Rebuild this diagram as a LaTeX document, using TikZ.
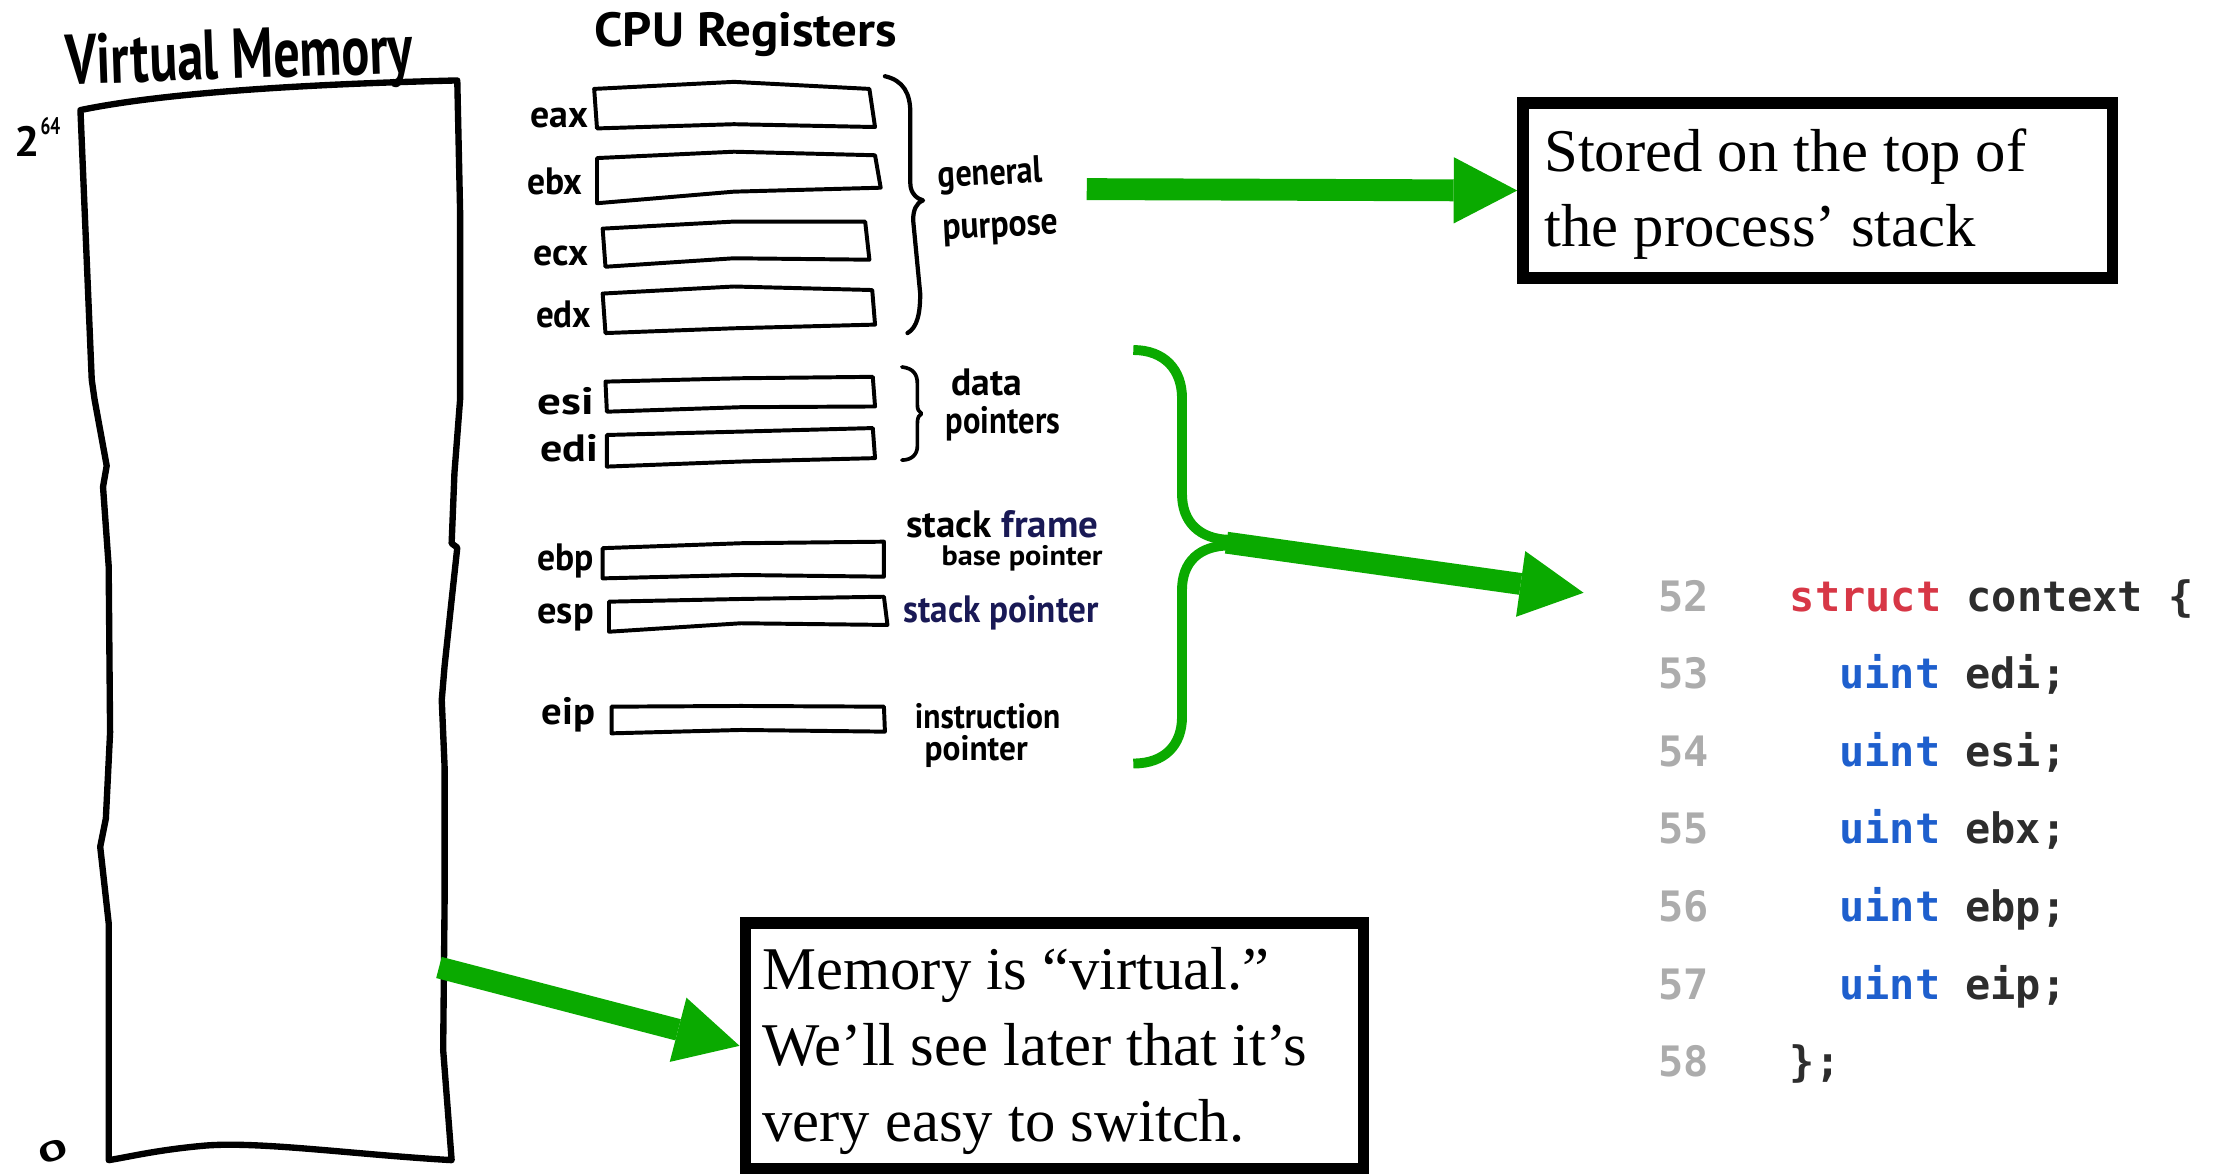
\documentclass[tikz,border=0pt]{standalone}
\usepackage{fontspec}
\usepackage{graphicx}
\setmainfont{Liberation Serif}
\newfontfamily\handfont{PT Sans}
\newfontfamily\codefont{DejaVu Sans Mono}
\usetikzlibrary{arrows.meta}

\definecolor{marker}{RGB}{10,170,0}
\definecolor{inkblue}{RGB}{25,25,85}
\definecolor{kwred}{RGB}{215,55,70}
\definecolor{kwblue}{RGB}{30,95,205}
\definecolor{codeink}{RGB}{45,45,45}
\definecolor{lineno}{RGB}{172,172,172}

% stretch a handwritten label to a given width, keeping its height
\newcommand\hw[2]{\resizebox{#1}{\height}{#2}}

\begin{document}
\begin{tikzpicture}[x=1pt,y=-1pt,
  hand/.style={font={\handfont\bfseries\fontsize{#1}{#1}\selectfont}, inner sep=0pt},
  ink/.style={line width=#1, line join=round, line cap=round},
  reg/.style={ink=2.8pt},
  greenarrow/.style={draw=marker, line width=15.5pt,
    -{Triangle[length=45pt,width=47pt,line width=0pt]}},
  msgbox/.style={draw, line width=8pt, inner sep=0pt},
  msgtext/.style={font=\fontsize{43}{43}\selectfont, inner sep=0pt, anchor=base west},
  lno/.style={font={\codefont\bfseries\fontsize{29.7}{29.7}\selectfont}, text=lineno,
    inner sep=0pt, anchor=base west},
  code/.style={font={\codefont\bfseries\fontsize{29.7}{29.7}\selectfont}, text=codeink,
    inner sep=0pt, anchor=base west},
]
\useasboundingbox (0,0) rectangle (1568,832);

% ---------------- virtual memory ----------------
\node[hand=50, anchor=base west, rotate=2] (vmtitle) at (47,60) {\hw{246pt}{Virtual Memory}};
\draw[ink=4.5pt] (57,78) .. controls (110,67) and (200,60) .. (324,57)
  -- (326,150) -- (326,283) -- (322,335) -- (320,385) -- (324,388)
  -- (320,425) -- (315,472) -- (313,496) -- (315,543) -- (315,640)
  -- (314,744) -- (320,822)
  .. controls (250,818) and (180,808) .. (142,812)
  .. controls (110,815) and (90,820) .. (77,822)
  -- (77,654) -- (71,600) -- (75,580) -- (78,519) -- (77,401)
  -- (73,345) -- (75.6,330) -- (67,283) -- (65,269) -- cycle;
\node[hand=30, anchor=base west] (top) at (10,111) {\hw{18pt}{2}};
\node[hand=17, anchor=base west] (topexp) at (28.5,95) {\hw{14pt}{64}};
\node[hand=24, rotate=20] (bottom) at (37.5,816) {\resizebox{21pt}{14pt}{0}};
\coordinate (memout) at (311,685.5);

% ---------------- CPU registers ----------------
\node[hand=34, anchor=base west] (cputitle) at (421,33) {\hw{214pt}{CPU Registers}};

\draw[reg] (421,63) -- (520,58) -- (616,63) -- (620,90) -- (520,88) -- (423,91) -- cycle;
\draw[reg] (423,112) -- (520,107.5) -- (620,110) -- (624,133) -- (520,135.8) -- (423,144) -- cycle;
\draw[reg] (427,162) -- (520,157) -- (613,157) -- (616,184) -- (520,183) -- (429,189) -- cycle;
\draw[reg] (427,208) -- (520,203) -- (618,205.5) -- (620,230) -- (520,232.6) -- (429,236) -- cycle;
\draw[reg] (429,270.4) -- (525,268) -- (618.4,267) -- (620,288) -- (525,288.5) -- (430,291.7) -- cycle;
\draw[reg] (430,308.2) -- (525,305.8) -- (618.4,303.3) -- (620,324.6) -- (525,327) -- (430,330.6) -- cycle;
\draw[reg] (427,388.4) -- (525,384.9) -- (626.3,383.8) -- (626.3,408.6) -- (525,407.4) -- (427,409.8) -- cycle;
\draw[reg] (431.5,426.3) -- (525,424.4) -- (626.3,422.8) -- (628.8,442.8) -- (525,441.6) -- (431.5,447.6) -- cycle;
\draw[reg] (433.3,500.7) -- (525,500.2) -- (626.3,500.7) -- (627,518.4) -- (525,517.2) -- (433.3,519.6) -- cycle;

\node[hand=27, anchor=base east] (leax) at (417,90)  {\hw{41pt}{eax}};
\node[hand=27, anchor=base east] (lebx) at (413,138) {\hw{39pt}{ebx}};
\node[hand=27, anchor=base east] (lecx) at (417,188) {\hw{39pt}{ecx}};
\node[hand=27, anchor=base east] (ledx) at (419,232) {\hw{39pt}{edx}};
\node[hand=27, anchor=base east] (lesi) at (421,294) {\hw{40pt}{esi}};
\node[hand=27, anchor=base east] (ledi) at (424,327) {\hw{41pt}{edi}};
\node[hand=27, anchor=base east] (lebp) at (421,404) {\hw{40pt}{ebp}};
\node[hand=27, anchor=base east] (lesp) at (421,442) {\hw{40pt}{esp}};
\node[hand=27, anchor=base east] (leip) at (422,513) {\hw{38pt}{eip}};

% braces drawn with the marker
\draw[ink=3pt] (627,54) .. controls (640,57) and (645,66) .. (645,80) -- (645,130)
  .. controls (645,137) and (650,141) .. (654,142)
  .. controls (649,144) and (647,149) .. (647,156) -- (652,208)
  .. controls (652,222) and (650,232) .. (643,236);
\draw[ink=2.6pt] (639,260) .. controls (647,261) and (650,265) .. (650,272) -- (650,287)
  .. controls (650,290) and (651,292) .. (653,293)
  .. controls (651,294) and (650,296) .. (650,300) -- (650,316)
  .. controls (650,322) and (646,326) .. (639,326);

\node[hand=27, anchor=base west, rotate=3] (lgen) at (665,133) {\hw{74pt}{general}};
\node[hand=27, anchor=base west, rotate=3] (lpur) at (668,170) {\hw{82pt}{purpose}};
\node[hand=27, anchor=base west] (ldata) at (674,280) {\hw{50pt}{data}};
\node[hand=27, anchor=base west] (lptrs) at (670,307) {\hw{81pt}{pointers}};
\node[hand=27, anchor=base west] (lframe) at (642,381) {\hw{136pt}{stack \textcolor{inkblue}{frame}}};
\node[hand=20, anchor=base west] (lbase) at (667,401) {\hw{114pt}{base pointer}};
\node[hand=27, anchor=base west, text=inkblue] (lsp) at (640,441) {\hw{138pt}{stack pointer}};
\node[hand=25, anchor=base west] (linstr) at (648,516) {\hw{103pt}{instruction}};
\node[hand=25, anchor=base west] (lip) at (655,539) {\hw{73pt}{pointer}};

\coordinate (regsout) at (770,134);

% ---------------- green marker strokes ----------------
\draw[ink=7pt, draw=marker, line cap=butt]
  (803,248) .. controls (825,248) and (837.5,262) .. (837.5,282) -- (837.5,350)
  .. controls (837.5,370) and (850,382) .. (871,382.5);
\draw[ink=7pt, draw=marker, line cap=butt]
  (871,386.5) .. controls (850,386.5) and (837.5,398) .. (837.5,418) -- (837.5,508)
  .. controls (837.5,528) and (825,541) .. (803,541);
\coordinate (bracetip) at (869,384.5);

% ---------------- notes ----------------
\node[msgbox, minimum width=418pt, minimum height=124pt] (stored) at (1288,135) {};
\node[msgtext] (stored1) at (1094,121.6) {Stored on the top of};
\node[msgtext] (stored2) at (1094,174.8) {the process’ stack};

\node[msgbox, minimum width=438pt, minimum height=174pt] (memnote) at (747,741) {};
\node[msgtext] (mem1) at (540,701) {Memory is “virtual.”};
\node[msgtext] (mem2) at (540,755) {We’ll see later that it’s};
\node[msgtext] (mem3) at (540,809) {very easy to switch.};

% ---------------- saved context ----------------
\node[lno] (n52) at (1175,433) {52};
\node[lno] (n53) at (1175,488) {53};
\node[lno] (n54) at (1175,543) {54};
\node[lno] (n55) at (1175,598) {55};
\node[lno] (n56) at (1175,653) {56};
\node[lno] (n57) at (1175,708) {57};
\node[lno] (n58) at (1175,763) {58};
\node[code] (c52) at (1268,433) {\textcolor{kwred}{struct} context \{};
\node[code] (c53) at (1303,488) {\textcolor{kwblue}{uint} edi;};
\node[code] (c54) at (1303,543) {\textcolor{kwblue}{uint} esi;};
\node[code] (c55) at (1303,598) {\textcolor{kwblue}{uint} ebx;};
\node[code] (c56) at (1303,653) {\textcolor{kwblue}{uint} ebp;};
\node[code] (c57) at (1303,708) {\textcolor{kwblue}{uint} eip;};
\node[code] (c58) at (1268,763) {\};};
\coordinate (codein) at (1122,420);

% ---------------- arrows ----------------
\draw[greenarrow] (regsout) -- (stored.west);
\draw[greenarrow] (bracetip) -- (codein);
\draw[greenarrow] (memout) -- (memnote.west);
\end{tikzpicture}
\end{document}
